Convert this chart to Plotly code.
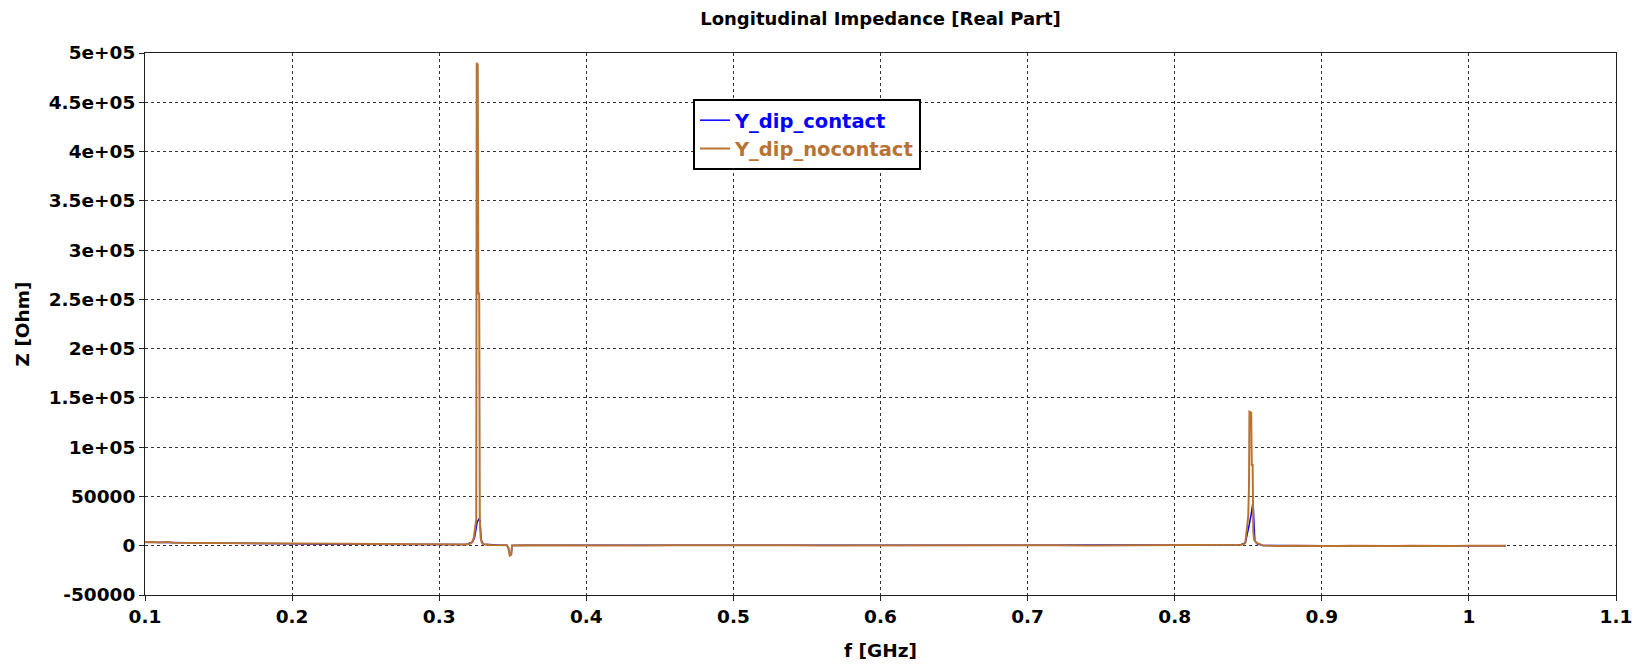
import plotly.graph_objects as go

# ---------------- data ----------------
freq_nocontact = [
    0.100, 0.105, 0.110, 0.115, 0.120, 0.130, 0.140, 0.150, 0.160, 0.170,
    0.180, 0.190, 0.200, 0.210, 0.220, 0.230, 0.240, 0.250, 0.260, 0.270,
    0.280, 0.290, 0.300, 0.310, 0.318, 0.321, 0.3225, 0.3235, 0.3242, 0.3248,
    0.3252, 0.3255, 0.3262, 0.3266, 0.3272, 0.3276, 0.3282, 0.3290, 0.3300, 0.3350,
    0.3400, 0.3460, 0.3470, 0.3480, 0.3490, 0.3495, 0.3550, 0.3650, 0.3800, 0.4000,
    0.4200, 0.4400, 0.4600, 0.4800, 0.5000, 0.5200, 0.5400, 0.5600, 0.5800, 0.6000,
    0.6200, 0.6400, 0.6600, 0.6800, 0.7000, 0.7200, 0.7400, 0.7600, 0.7800, 0.8000,
    0.8200, 0.8350, 0.8450, 0.8470, 0.8480, 0.8492, 0.8500, 0.8505, 0.8508, 0.8520,
    0.8524, 0.8530, 0.8534, 0.8540, 0.8557, 0.8600, 0.8700, 0.8800, 0.8900, 0.9000,
    0.9100, 0.9200, 0.9300, 0.9400, 0.9500, 0.9600, 0.9700, 0.9800, 0.9900, 1.0000,
    1.0100, 1.0200, 1.0250,
]
z_nocontact = [
    3500, 3900, 3400, 3700, 3100, 3000, 2700, 2600, 2400, 2300,
    2100, 1900, 1800, 1700, 1500, 1500, 1300, 1200, 1200, 1100,
    1000, 1000, 900, 900, 1200, 2000, 4000, 8000, 16000, 24000,
    27000, 490000, 488000, 256000, 256000, 27000, 8000, 3000, 1500, 800,
    600, 500, -2000, -10000, -9000, 200, 500, 400, 500, 300,
    400, 300, 500, 300, 400, 300, 400, 300, 400, 300,
    300, 400, 300, 400, 300, 500, 300, 400, 500, 400,
    500, 600, 900, 1500, 3000, 19000, 30000, 60000, 136000, 135000,
    82000, 82000, 15000, 6000, 2800, 200, -300, 0, -200, 100,
    -300, 0, -200, 0, -300, 100, -200, 0, -300, 0,
    -200, -100, -100,
]

freq_contact = [
    0.100, 0.110, 0.120, 0.140, 0.160, 0.180, 0.200, 0.220, 0.240, 0.260,
    0.280, 0.300, 0.318, 0.3225, 0.3240, 0.3248, 0.3258, 0.3270, 0.3277, 0.3285,
    0.3300, 0.3400, 0.3460, 0.3470, 0.3480, 0.3490, 0.3495, 0.3600, 0.4000, 0.4500,
    0.5000, 0.5500, 0.6000, 0.6500, 0.7000, 0.7500, 0.8000, 0.8350, 0.8450, 0.8480,
    0.8492, 0.8505, 0.8520, 0.8533, 0.8537, 0.8545, 0.8560, 0.8600, 0.9000, 0.9500,
    1.0000, 1.0250,
]
z_contact = [
    3600, 3500, 3300, 2800, 2500, 2200, 1900, 1600, 1400, 1300,
    1100, 1000, 1200, 3500, 8000, 15000, 24000, 27000, 26000, 6000,
    1500, 700, 500, -2000, -9500, -8500, 300, 600, 500, 600,
    500, 600, 500, 600, 500, 700, 600, 700, 1000, 2800,
    10000, 20000, 32000, 45000, 30000, 5000, 2000, 300, 0, 0,
    0, -100,
]

x_tickvals = [0.1, 0.2, 0.3, 0.4, 0.5, 0.6, 0.7, 0.8, 0.9, 1.0, 1.1]
x_ticktext = ["0.1", "0.2", "0.3", "0.4", "0.5", "0.6", "0.7", "0.8", "0.9", "1", "1.1"]
y_tickvals = [-50000, 0, 50000, 100000, 150000, 200000, 250000, 300000, 350000, 400000, 450000, 500000]
y_ticktext = ["-50000", "0", "50000", "1e+05", "1.5e+05", "2e+05", "2.5e+05", "3e+05",
              "3.5e+05", "4e+05", "4.5e+05", "5e+05"]

BLUE = "#0000FF"
COPPER = "#B87333"
FONT = "DejaVu Sans"

fig = go.Figure()
fig.add_trace(go.Scatter(
    x=freq_contact, y=z_contact, mode="lines",
    name=f"<span style='color:{BLUE}'>Y_dip_contact</span>",
    line=dict(color=BLUE, width=1.5), legendgroup="a",
))
fig.add_trace(go.Scatter(
    x=freq_nocontact, y=z_nocontact, mode="lines",
    name=f"<span style='color:{COPPER}'>Y_dip_nocontact</span>",
    line=dict(color=COPPER, width=2), legendgroup="b",
))

axis_common = dict(
    showline=True, linecolor="#222222", linewidth=1, mirror=True,
    ticks="outside", ticklen=5, tickcolor="#222222",
    showgrid=True, gridcolor="#333333", gridwidth=1, griddash="3px,3px",
    zeroline=False,
    tickfont=dict(family=FONT, size=18.5, color="black", weight="bold"),
)

# page body adds an 8px offset; margins compensate so the plot area matches
fig.update_layout(
    width=1645, height=664,
    margin=dict(l=137, r=37, t=45, b=77),
    paper_bgcolor="white", plot_bgcolor="white",
    title=dict(
        text="Longitudinal Impedance [Real Part]",
        x=0.5, xref="paper", y=1 - 11 / 664, yref="container",
        xanchor="center", yanchor="middle",
        font=dict(family=FONT, size=18, color="black", weight="bold"),
    ),
    xaxis=dict(
        range=[0.1, 1.1], tickvals=x_tickvals, ticktext=x_ticktext,
        title=dict(text="f [GHz]", standoff=17,
                   font=dict(family=FONT, size=18.5, color="black", weight="bold")),
        **axis_common,
    ),
    yaxis=dict(
        range=[-50000, 500000], tickvals=y_tickvals, ticktext=y_ticktext,
        title=dict(text="Z [Ohm]", standoff=14,
                   font=dict(family=FONT, size=18.5, color="black", weight="bold")),
        **axis_common,
    ),
    legend=dict(
        x=(693 - 145) / 1471, y=(595 - 99) / 542, xanchor="left", yanchor="top",
        bgcolor="white", bordercolor="black", borderwidth=2,
        font=dict(family=FONT, size=19.5, weight="bold"),
        tracegroupgap=0,
    ),
    showlegend=True,
)

fig.write_html("out.html")
